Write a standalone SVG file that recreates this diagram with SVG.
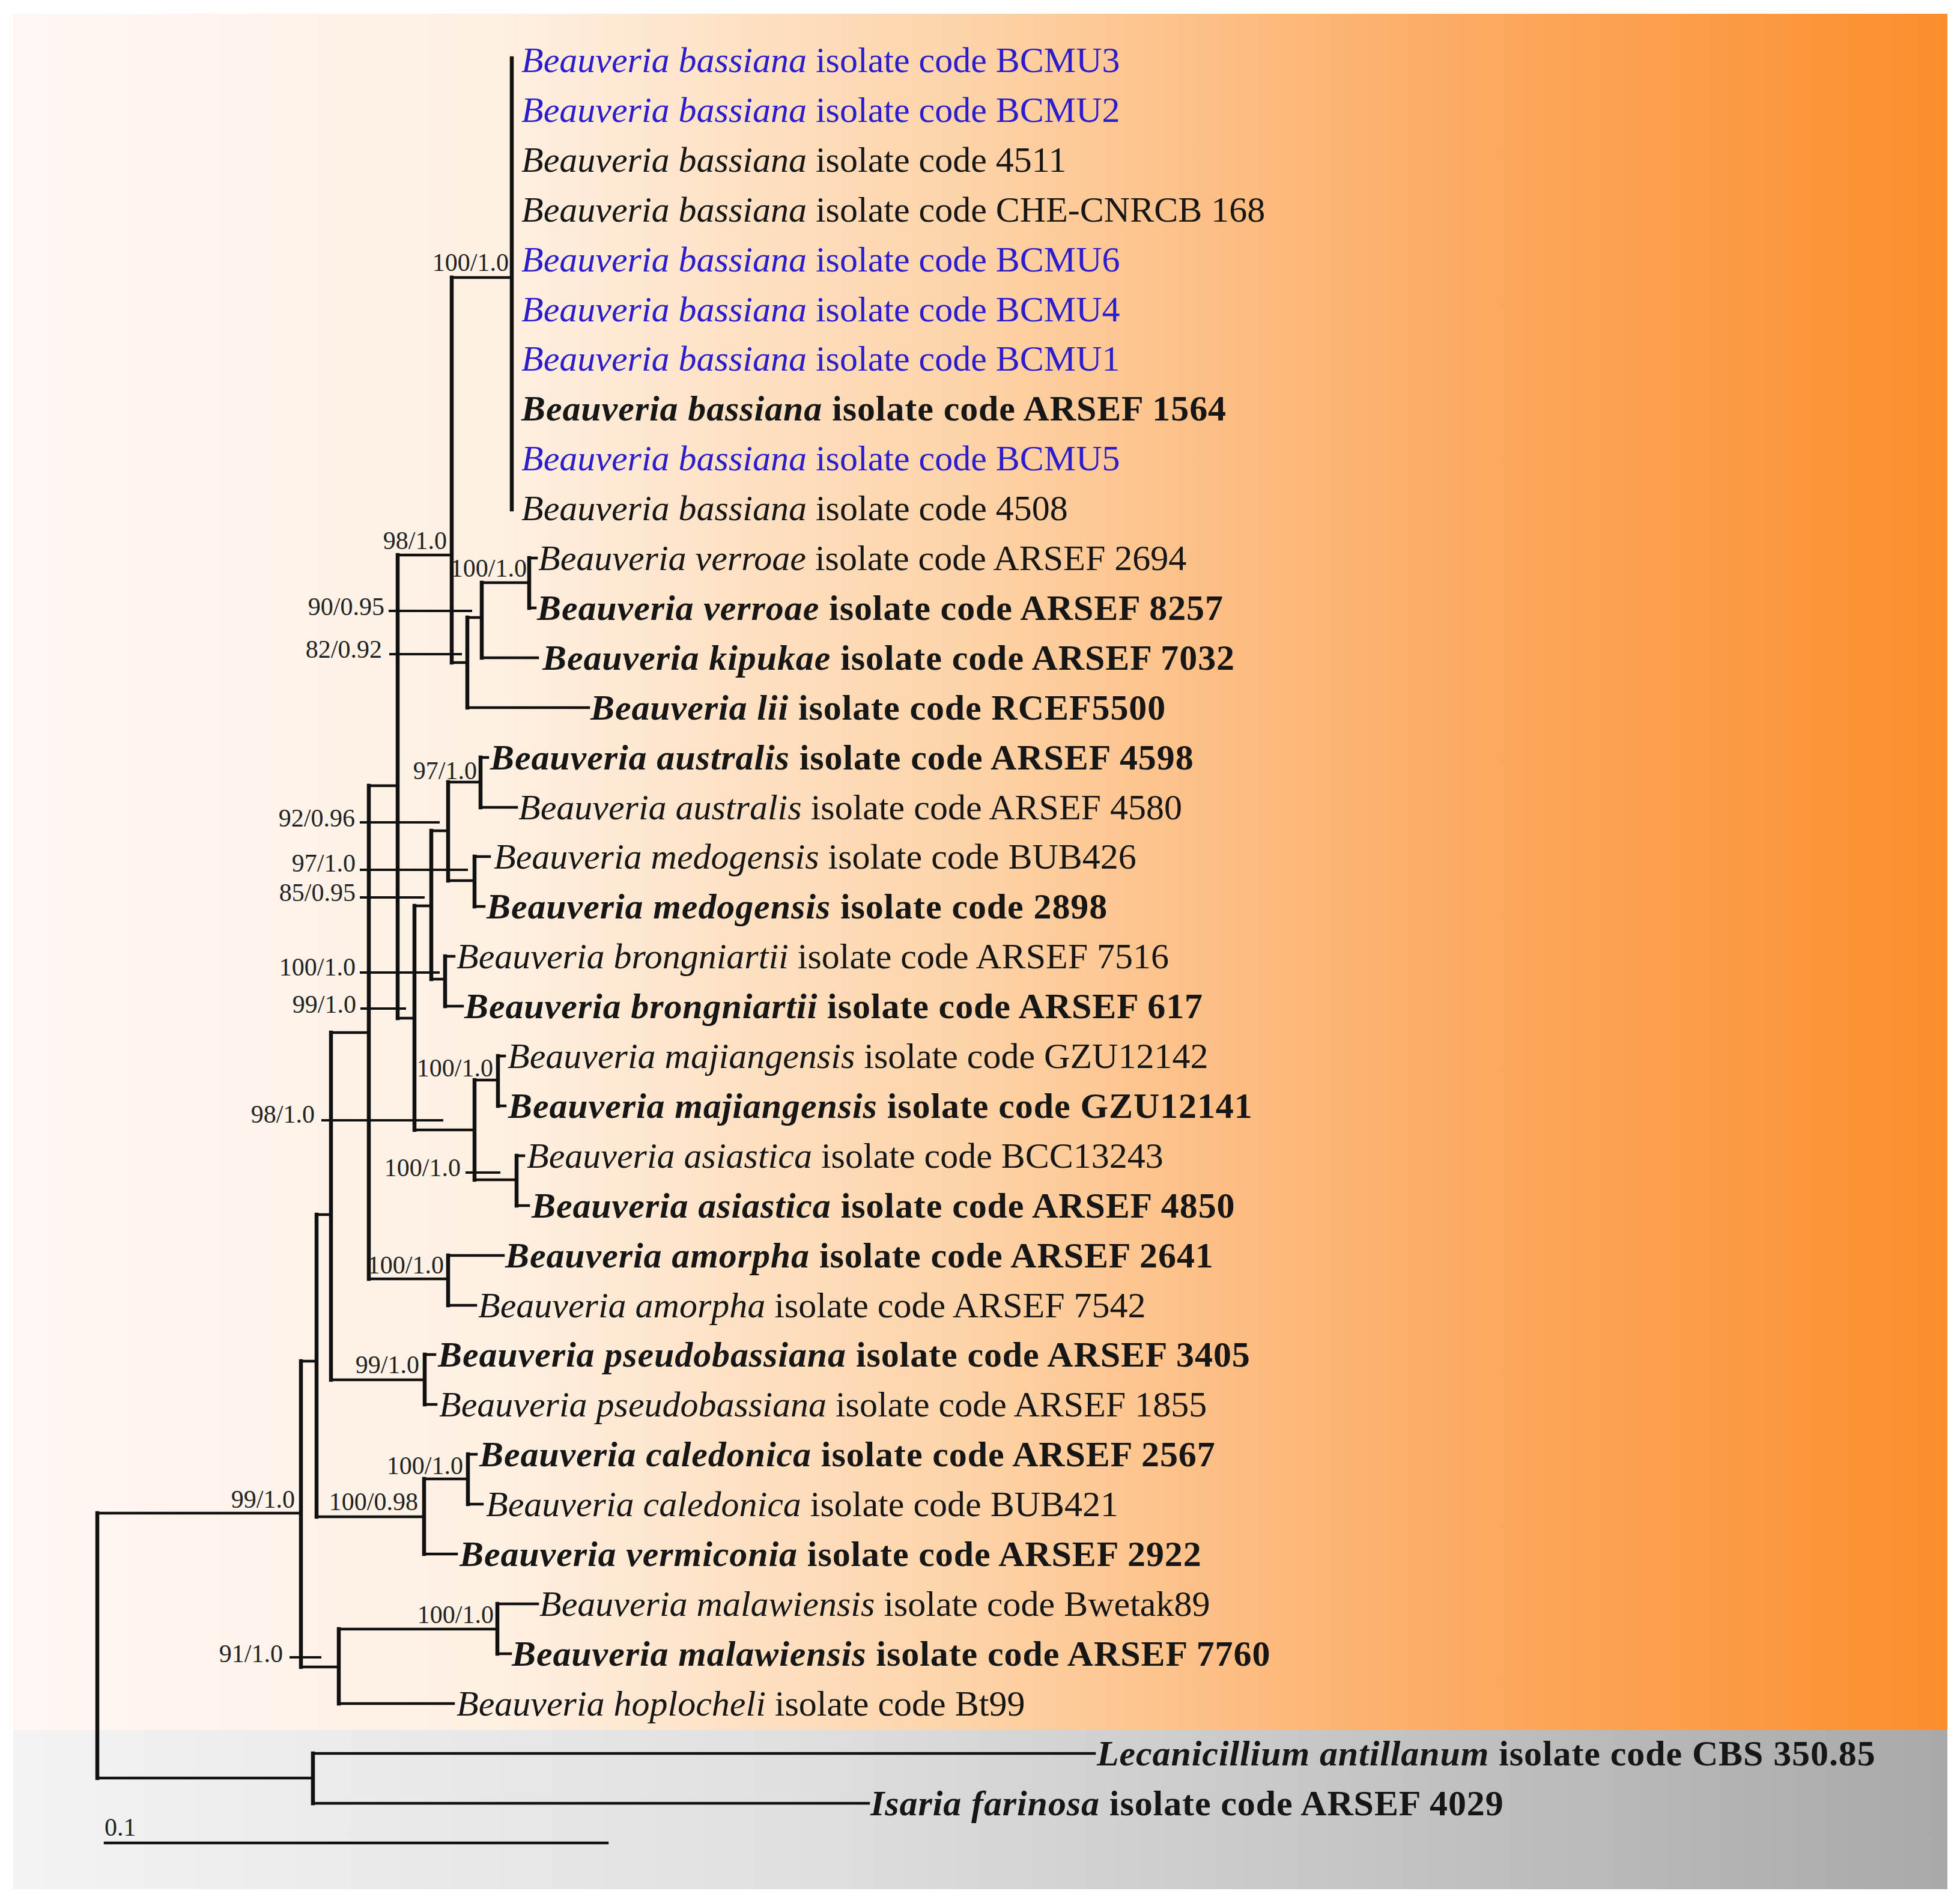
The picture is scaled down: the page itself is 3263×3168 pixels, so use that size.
<svg xmlns="http://www.w3.org/2000/svg" width="3263" height="3168" viewBox="0 0 3263 3168">
<defs>
<linearGradient id="og" x1="0" y1="0" x2="1" y2="0">
<stop offset="0" stop-color="#fff7f4"/>
<stop offset="0.25" stop-color="#fef0e2"/>
<stop offset="0.5" stop-color="#fdd2a6"/>
<stop offset="0.75" stop-color="#fcaa62"/>
<stop offset="1" stop-color="#fb8e2c"/>
</linearGradient>
<linearGradient id="gg" x1="0" y1="0" x2="1" y2="0">
<stop offset="0" stop-color="#f3f3f3"/>
<stop offset="0.4" stop-color="#e0e0e0"/>
<stop offset="1" stop-color="#a9a9a9"/>
</linearGradient>
<style>
.t{font-family:"Liberation Serif","Times New Roman",serif;font-size:60px;fill:#161616}
.b{font-weight:bold;letter-spacing:0.9px}
.blue{fill:#2c1dcc}
.i{font-style:italic}
.s{font-family:"Liberation Serif","Times New Roman",serif;font-size:42px;fill:#222;text-anchor:end}
.v{stroke:#111;stroke-width:6.5;fill:none;stroke-linecap:square}
.h{stroke:#111;stroke-width:4.5;fill:none;stroke-linecap:square}
.l{stroke:#111;stroke-width:4;fill:none}
</style>
</defs>
<rect x="0" y="0" width="3263" height="3168" fill="#ffffff"/>
<rect x="22" y="23" width="3220" height="2857" fill="url(#og)"/>
<rect x="22" y="2880" width="3220" height="265" fill="url(#gg)"/>

<g id="connectors">
<path class="v" d="M852 97V848 M752 462V1103 M778 1028V1178 M802 970V1095 M881 929V1012 M662 924V1695 M690 1508V1881 M718 1383V1630 M746 1302V1466 M800 1261V1344 M790 1426V1509 M741 1592V1675 M790 1798V1964 M829 1758V1841 M860 1924V2007 M614 1308V2129 M746 2090V2173 M551 1719V2297 M707 2255V2338 M527 2022V2525 M706 2462V2587 M779 2421V2504 M501 2266V2775 M564 2712V2836 M828 2670V2753 M162 2519V2960 M521 2919V3002"/>
<path class="h" d="M752 462H852 M752 1103H778 M778 1028H802 M778 1178H980 M802 970H881 M802 1095H895 M881 929H893 M881 1012H891 M662 924H752 M662 1695H690 M690 1508H718 M690 1881H790 M718 1383H746 M718 1630H741 M746 1302H800 M746 1466H790 M800 1261H812 M800 1344H860 M790 1426H815 M790 1509H806 M741 1592H756 M741 1675H770 M790 1798H829 M790 1964H860 M829 1758H840 M829 1841H841 M860 1924H872 M860 2007H880 M614 1308H662 M614 2129H746 M746 2090H838 M746 2173H792 M551 1719H614 M551 2297H707 M707 2255H724 M707 2338H726 M527 2022H551 M527 2525H706 M706 2462H779 M706 2587H760 M779 2421H793 M779 2504H803 M501 2266H527 M501 2775H564 M564 2712H828 M564 2836H755 M828 2670H895 M828 2753H850 M162 2519H501 M162 2960H521 M521 2919H1822 M521 3002H1446"/>
<path class="l" d="M647 1017H786 M648 1089H769 M599 1369H732 M599 1448H779 M599 1494H707 M599 1619H732 M600 1679H676 M535 1865H738 M775 1952H833 M482 2759H535"/>
</g>

<g id="support-labels">
<text class="s" x="847" y="451">100/1.0</text>
<text class="s" x="744" y="914">98/1.0</text>
<text class="s" x="877" y="960">100/1.0</text>
<text class="s" x="640" y="1024">90/0.95</text>
<text class="s" x="636" y="1095">82/0.92</text>
<text class="s" x="794" y="1297">97/1.0</text>
<text class="s" x="591" y="1376">92/0.96</text>
<text class="s" x="592" y="1451">97/1.0</text>
<text class="s" x="592" y="1500">85/0.95</text>
<text class="s" x="592" y="1624">100/1.0</text>
<text class="s" x="593" y="1686">99/1.0</text>
<text class="s" x="821" y="1792">100/1.0</text>
<text class="s" x="524" y="1869">98/1.0</text>
<text class="s" x="767" y="1958">100/1.0</text>
<text class="s" x="739" y="2120">100/1.0</text>
<text class="s" x="698" y="2286">99/1.0</text>
<text class="s" x="771" y="2454">100/1.0</text>
<text class="s" x="696" y="2514">100/0.98</text>
<text class="s" x="491" y="2510">99/1.0</text>
<text class="s" x="822" y="2702">100/1.0</text>
<text class="s" x="471" y="2767">91/1.0</text>
</g>

<g id="taxa">
<g id="t-BCMU3"><text class="t blue" x="868" y="120"><tspan class="i">Beauveria bassiana</tspan> isolate code BCMU3</text></g>
<g id="t-BCMU2"><text class="t blue" x="868" y="203"><tspan class="i">Beauveria bassiana</tspan> isolate code BCMU2</text></g>
<g id="t-4511"><text class="t" x="868" y="286"><tspan class="i">Beauveria bassiana</tspan> isolate code 4511</text></g>
<g id="t-CHE"><text class="t" x="868" y="369"><tspan class="i">Beauveria bassiana</tspan> isolate code CHE-CNRCB 168</text></g>
<g id="t-BCMU6"><text class="t blue" x="868" y="452"><tspan class="i">Beauveria bassiana</tspan> isolate code BCMU6</text></g>
<g id="t-BCMU4"><text class="t blue" x="868" y="535"><tspan class="i">Beauveria bassiana</tspan> isolate code BCMU4</text></g>
<g id="t-BCMU1"><text class="t blue" x="868" y="617"><tspan class="i">Beauveria bassiana</tspan> isolate code BCMU1</text></g>
<g id="t-ARSEF1564"><text class="t b" x="868" y="700"><tspan class="i">Beauveria bassiana</tspan> isolate code ARSEF 1564</text></g>
<g id="t-BCMU5"><text class="t blue" x="868" y="783"><tspan class="i">Beauveria bassiana</tspan> isolate code BCMU5</text></g>
<g id="t-4508"><text class="t" x="868" y="866"><tspan class="i">Beauveria bassiana</tspan> isolate code 4508</text></g>
<g id="t-ARSEF2694"><text class="t" x="896" y="949"><tspan class="i">Beauveria verroae</tspan> isolate code ARSEF 2694</text></g>
<g id="t-ARSEF8257"><text class="t b" x="894" y="1032"><tspan class="i">Beauveria verroae</tspan> isolate code ARSEF 8257</text></g>
<g id="t-ARSEF7032"><text class="t b" x="903" y="1115"><tspan class="i">Beauveria kipukae</tspan> isolate code ARSEF 7032</text></g>
<g id="t-RCEF5500"><text class="t b" x="983" y="1198"><tspan class="i">Beauveria lii</tspan> isolate code RCEF5500</text></g>
<g id="t-ARSEF4598"><text class="t b" x="816" y="1281"><tspan class="i">Beauveria australis</tspan> isolate code ARSEF 4598</text></g>
<g id="t-ARSEF4580"><text class="t" x="863" y="1364"><tspan class="i">Beauveria australis</tspan> isolate code ARSEF 4580</text></g>
<g id="t-BUB426"><text class="t" x="822" y="1446"><tspan class="i">Beauveria medogensis</tspan> isolate code BUB426</text></g>
<g id="t-2898"><text class="t b" x="810" y="1529"><tspan class="i">Beauveria medogensis</tspan> isolate code 2898</text></g>
<g id="t-ARSEF7516"><text class="t" x="760" y="1612"><tspan class="i">Beauveria brongniartii</tspan> isolate code ARSEF 7516</text></g>
<g id="t-ARSEF617"><text class="t b" x="773" y="1695"><tspan class="i">Beauveria brongniartii</tspan> isolate code ARSEF 617</text></g>
<g id="t-GZU12142"><text class="t" x="845" y="1778"><tspan class="i">Beauveria majiangensis</tspan> isolate code GZU12142</text></g>
<g id="t-GZU12141"><text class="t b" x="846" y="1861"><tspan class="i">Beauveria majiangensis</tspan> isolate code GZU12141</text></g>
<g id="t-BCC13243"><text class="t" x="877" y="1944"><tspan class="i">Beauveria asiastica</tspan> isolate code BCC13243</text></g>
<g id="t-ARSEF4850"><text class="t b" x="885" y="2027"><tspan class="i">Beauveria asiastica</tspan> isolate code ARSEF 4850</text></g>
<g id="t-ARSEF2641"><text class="t b" x="841" y="2110"><tspan class="i">Beauveria amorpha</tspan> isolate code ARSEF 2641</text></g>
<g id="t-ARSEF7542"><text class="t" x="796" y="2193"><tspan class="i">Beauveria amorpha</tspan> isolate code ARSEF 7542</text></g>
<g id="t-ARSEF3405"><text class="t b" x="729" y="2275"><tspan class="i">Beauveria pseudobassiana</tspan> isolate code ARSEF 3405</text></g>
<g id="t-ARSEF1855"><text class="t" x="731" y="2358"><tspan class="i">Beauveria pseudobassiana</tspan> isolate code ARSEF 1855</text></g>
<g id="t-ARSEF2567"><text class="t b" x="798" y="2441"><tspan class="i">Beauveria caledonica</tspan> isolate code ARSEF 2567</text></g>
<g id="t-BUB421"><text class="t" x="809" y="2524"><tspan class="i">Beauveria caledonica</tspan> isolate code BUB421</text></g>
<g id="t-ARSEF2922"><text class="t b" x="765" y="2607"><tspan class="i">Beauveria vermiconia</tspan> isolate code ARSEF 2922</text></g>
<g id="t-Bwetak89"><text class="t" x="898" y="2690"><tspan class="i">Beauveria malawiensis</tspan> isolate code Bwetak89</text></g>
<g id="t-ARSEF7760"><text class="t b" x="852" y="2773"><tspan class="i">Beauveria malawiensis</tspan> isolate code ARSEF 7760</text></g>
<g id="t-Bt99"><text class="t" x="760" y="2856"><tspan class="i">Beauveria hoplocheli</tspan> isolate code Bt99</text></g>
<g id="t-CBS35085"><text class="t b" x="1826" y="2939"><tspan class="i">Lecanicillium antillanum</tspan> isolate code CBS 350.85</text></g>
<g id="t-ARSEF4029"><text class="t b" x="1449" y="3022"><tspan class="i">Isaria farinosa</tspan> isolate code ARSEF 4029</text></g>
</g>

<g id="scale-bar">
<path class="h" d="M175 3068H1011"/>
<text x="174" y="3056" style="font-family:'Liberation Serif','Times New Roman',serif;font-size:42px;fill:#222">0.1</text>
</g>
</svg>
